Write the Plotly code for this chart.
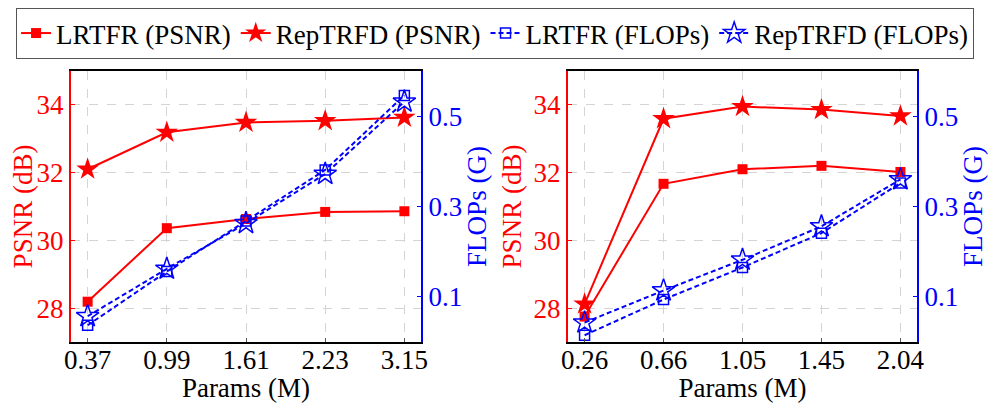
import plotly.graph_objects as go
from plotly.subplots import make_subplots

# x tick labels (params in M) for the two panels
params_a = ["0.37", "0.99", "1.61", "2.23", "3.15"]
params_b = ["0.26", "0.66", "1.05", "1.45", "2.04"]

# PSNR (dB)
lrtfr_psnr_a = [28.19, 30.36, 30.63, 30.84, 30.86]
reptrfd_psnr_a = [32.10, 33.19, 33.48, 33.53, 33.63]
lrtfr_psnr_b = [27.75, 31.67, 32.10, 32.20, 32.02]
reptrfd_psnr_b = [28.12, 33.59, 33.95, 33.86, 33.67]

# FLOPs (G)
lrtfr_flops_a = [0.037, 0.156, 0.268, 0.381, 0.546]
reptrfd_flops_a = [0.057, 0.162, 0.263, 0.372, 0.532]
lrtfr_flops_b = [0.015, 0.094, 0.165, 0.241, 0.352]
reptrfd_flops_b = [0.043, 0.114, 0.182, 0.256, 0.360]

RED = "#FF0000"
BLUE = "#0000FF"
FONT = "'Liberation Serif', 'Times New Roman', 'DejaVu Serif', serif"
FS = 27

fig = make_subplots(rows=1, cols=2, specs=[[{"secondary_y": True}, {"secondary_y": True}]])

panels = [
    (1, params_a, lrtfr_psnr_a, reptrfd_psnr_a, lrtfr_flops_a, reptrfd_flops_a, True),
    (2, params_b, lrtfr_psnr_b, reptrfd_psnr_b, lrtfr_flops_b, reptrfd_flops_b, False),
]

for col, xs, lp, rp, lf, rf, show in panels:
    fig.add_trace(go.Scatter(
        x=xs, y=lp, name="LRTFR (PSNR)", legendgroup="a", showlegend=show,
        mode="lines+markers", line=dict(color=RED, width=2),
        marker=dict(symbol="square", size=10, color=RED)), row=1, col=col, secondary_y=False)
    fig.add_trace(go.Scatter(
        x=xs, y=rp, name="RepTRFD (PSNR)", legendgroup="b", showlegend=show,
        mode="lines+markers", line=dict(color=RED, width=2),
        marker=dict(symbol="star", size=17, color=RED)), row=1, col=col, secondary_y=False)
    fig.add_trace(go.Scatter(
        x=xs, y=lf, name="LRTFR (FLOPs)", legendgroup="c", showlegend=show,
        mode="lines+markers", line=dict(color=BLUE, width=2, dash="5px,3px"),
        marker=dict(symbol="square-open", size=10, color=BLUE, line=dict(width=1.5))),
        row=1, col=col, secondary_y=True)
    fig.add_trace(go.Scatter(
        x=xs, y=rf, name="RepTRFD (FLOPs)", legendgroup="d", showlegend=show,
        mode="lines+markers", line=dict(color=BLUE, width=2, dash="5px,3px"),
        marker=dict(symbol="star-open", size=17, color=BLUE, line=dict(width=1.5))),
        row=1, col=col, secondary_y=True)

# the page body keeps an 8px margin, so the figure is drawn 8px in from the corner
OFF = 8
W, H = 996 - 2 * OFF, 411 - 2 * OFF
ydom = [(H - (342 - OFF)) / H, (H - (71 - OFF)) / H]
xdoms = [[(71 - OFF) / W, (421 - OFF) / W], [(568 - OFF) / W, (917 - OFF) / W]]

xcommon = dict(
    type="category", range=[-0.21, 4.21], automargin=False,
    showline=True, linecolor="black", linewidth=2, mirror=True,
    showgrid=True, gridcolor="#d4d4d4", griddash="dash", gridwidth=1,
    ticks="inside", ticklen=4, tickcolor="#555", ticklabelstandoff=-7,
    tickfont=dict(family=FONT, size=FS, color="black"),
    title=dict(text="Params (M)", font=dict(family=FONT, size=FS, color="black"), standoff=0),
    zeroline=False,
)
ycommon = dict(
    range=[27, 35], tickvals=[28, 30, 32, 34], automargin=False,
    showline=True, linecolor=RED, linewidth=2,
    showgrid=True, gridcolor="#d4d4d4", griddash="dash", gridwidth=1,
    ticks="inside", ticklen=4, tickcolor=RED,
    tickfont=dict(family=FONT, size=FS, color=RED),
    title=dict(text="PSNR (dB)", font=dict(family=FONT, size=FS, color=RED), standoff=4),
    zeroline=False,
)
y2common = dict(
    range=[0, 0.6], tickvals=[0.1, 0.3, 0.5], ticktext=["0.1", "0.3", "0.5"], automargin=False,
    showline=True, linecolor=BLUE, linewidth=2,
    showgrid=False,
    ticks="inside", ticklen=4, tickcolor=BLUE,
    tickfont=dict(family=FONT, size=FS, color=BLUE),
    title=dict(text="FLOPs (G)", font=dict(family=FONT, size=FS, color=BLUE), standoff=4),
    zeroline=False,
)

fig.update_layout(
    xaxis=dict(domain=xdoms[0], **xcommon),
    xaxis2=dict(domain=xdoms[1], **xcommon),
    yaxis=dict(domain=ydom, **ycommon),
    yaxis2=dict(domain=ydom, **y2common),
    yaxis3=dict(domain=ydom, **ycommon),
    yaxis4=dict(domain=ydom, **y2common),
)

fig.update_layout(
    width=W, height=H,
    margin=dict(l=0, r=0, t=0, b=0),
    paper_bgcolor="white", plot_bgcolor="white",
    font=dict(family=FONT, size=FS, color="black"),
    legend=dict(
        orientation="h", x=0.497, xanchor="center", y=1, yanchor="top",
        bordercolor="#555", borderwidth=1, bgcolor="white",
        font=dict(family=FONT, size=FS, color="black"),
        itemwidth=30, tracegroupgap=0,
    ),
)

fig.write_html("out.html")
